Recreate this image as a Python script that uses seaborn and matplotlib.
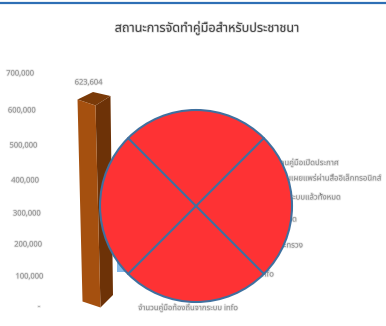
import matplotlib
matplotlib.use("Agg")
import matplotlib.pyplot as plt
import matplotlib.patheffects as pe
from matplotlib.patches import Circle, Polygon
from matplotlib.lines import Line2D
from matplotlib.transforms import Affine2D
import pandas as pd
import seaborn as sns

TITLE = "สถานะการจัดทำคู่มือสำหรับประชาชนา"
categories = ["จำนวนคู่มือท้องถิ่นจากระบบ info", "รวมคู่มือที่ปรากฏ"]
values = [623604, 90000]
bar_colors = ["#a5500f", "#82b8ea"]
value_labels = ["623,604"]
y_ticks = [0, 100000, 200000, 300000, 400000, 500000, 600000, 700000]
side_labels = [
    "จำนวนคู่มือเปิดประกาศ",
    "จำนวนเผยแพร่ผ่านสื่ออิเล็กทรอนิกส์",
    "จำนวนเข้าระบบแล้วทั้งหมด",
    "จำนวนรวมทั้งหมด",
    "จำนวนตามกระทรวง",
    "จำนวนจากระบบ info",
]

W, H = 386, 326
sns.set_theme(style="white")
plt.rcParams["font.family"] = ["Noto Sans Thai", "Noto Sans", "DejaVu Sans"]

fig = plt.figure(figsize=(W / 100, H / 100), dpi=100)
canvas = fig.add_axes([0, 0, 1, 1], zorder=0)
canvas.set_xlim(0, W)
canvas.set_ylim(H, 0)
canvas.axis("off")

# bars: the front face of each column is the seaborn rectangle, sheared below
bar_base_px = 301.5
bar_scale_px = 202 / values[0]
chart_h = bar_scale_px * 700000
chart = fig.add_axes([77 / W, 1 - bar_base_px / H, 58 / W, chart_h / H], zorder=1)
chart.patch.set_alpha(0)
frame = pd.DataFrame({"category": categories, "value": values})
sns.barplot(data=frame, x="category", y="value", hue="category", ax=chart,
            palette=bar_colors, width=0.62, saturation=1, order=categories,
            legend=False, linewidth=0, edgecolor="none")
chart.set_xlim(-0.5, 1.5)
chart.set_ylim(0, 700000)
chart.axis("off")
main, minor = chart.patches[0], chart.patches[1]

fig.canvas.draw()
pivot_x, pivot_y = 82.5, H - bar_base_px
shear = (Affine2D().translate(-pivot_x, -pivot_y)
         + Affine2D.from_values(1, -1 / 3, -5 / 202, 1, 0, 0)
         + Affine2D().translate(pivot_x, pivot_y))
main.set_transform(chart.transData + shear)
main.set_clip_on(False)
minor.set_transform(chart.transData + Affine2D().translate(5.5, 29.5))
minor.set_clip_on(False)


def corner(x, y):
    dx, dy = (chart.transData + shear).transform((x, y))
    return dx, H - dy


x0, bar_w, bar_h = main.get_x(), main.get_width(), main.get_height()
tl, tr = corner(x0, bar_h), corner(x0 + bar_w, bar_h)
bl, br = corner(x0, 0), corner(x0 + bar_w, 0)

# darker flank and cap complete the box shape
flank = Polygon([tr, br, (br[0] + 12.5, br[1] - 12.5), (tr[0] + 15, tr[1] - 9.5)],
                closed=True, fc="#6d3207", ec="none")
cap = Polygon([tl, (tl[0] + 15.5, tl[1] - 7.5), (tr[0] + 15, tr[1] - 9.5), tr],
              closed=True, fc="#7a3a08", ec="none")
canvas.add_patch(flank)
canvas.add_patch(cap)

soft = [pe.withStroke(linewidth=1.3, foreground="#999999", alpha=0.2)]
grey = "#8a8a8a"

# value labels step along the slanted wall of the chart
label_centres = [39, 29.3, 28, 26.7, 25, 23.3, 21.7, 20]
label_rows = [307, 277, 245, 214, 181, 146, 111, 74]
for tick, lx, ly in zip(y_ticks, label_centres, label_rows):
    canvas.text(lx, ly, f"{tick:,}" if tick else "-", ha="center", va="center",
                fontsize=5.4, color=grey if tick else "#b5b5b5", path_effects=soft)

canvas.text(88.5, 83, value_labels[0], ha="center", va="center", fontsize=5.4,
            color=grey, path_effects=soft)
canvas.text(207, 28, TITLE, ha="center", va="center", fontsize=9.1, color="#444444",
            path_effects=[pe.withStroke(linewidth=1.2, foreground="#777777", alpha=0.22)])
canvas.text(188, 308, categories[0], ha="center", va="center", fontsize=5.5,
            color=grey, path_effects=soft)

right_ends = [(339, 163), (381, 179), (341, 198), (297, 220), (303, 246), (274, 275)]
for label, (x, y) in zip(side_labels, right_ends):
    canvas.text(x, y, label, ha="right", va="center", fontsize=5.6,
                color=grey, path_effects=soft)

# rule across the top of the slide
canvas.add_line(Line2D([0, W], [3, 3], color="#2e6fb5", lw=1.6))

# crossed-out disc above everything else
overlay = fig.add_axes([0, 0, 1, 1], zorder=2)
overlay.set_xlim(0, W)
overlay.set_ylim(H, 0)
overlay.axis("off")
cx, cy, r = 196, 206, 96
overlay.add_patch(Circle((cx, cy), r, fc="#fe3234", ec="#3f709f", lw=1.5))
d = r * 0.707
for sx in (-1, 1):
    overlay.add_line(Line2D([cx - sx * d, cx + sx * d], [cy - d, cy + d],
                            color="#3f709f", lw=1.5))

fig.savefig("out.png", dpi=100)
